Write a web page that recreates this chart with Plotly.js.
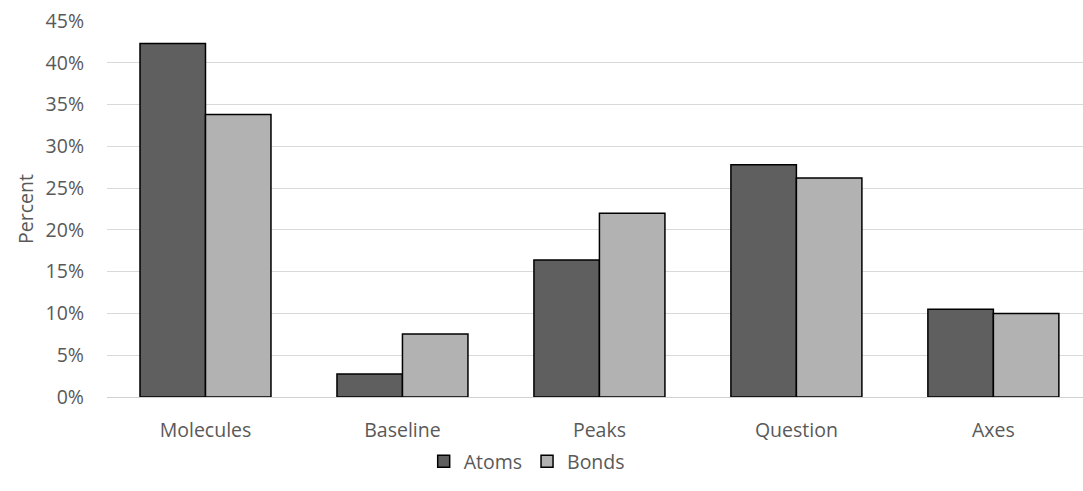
<!DOCTYPE html>
<html>
<head>
<meta charset="utf-8">
<script src="https://cdn.plot.ly/plotly-3.0.1.min.js"></script>
<style>html,body{margin:0;padding:0;background:#fff;}#chart{width:1083px;height:491px;}</style>
</head>
<body>
<div id="chart"></div>
<script>
const categories = ["Molecules", "Baseline", "Peaks", "Question", "Axes"];
const atoms = [0.423, 0.0275, 0.164, 0.278, 0.105];
const bonds = [0.338, 0.0755, 0.220, 0.262, 0.100];
const yTicks = [0, 0.05, 0.10, 0.15, 0.20, 0.25, 0.30, 0.35, 0.40, 0.45];
const yTickLabels = ["0%", "5%", "10%", "15%", "20%", "25%", "30%", "35%", "40%", "45%"];

const font = {family: "Open Sans, sans-serif", size: 19.5, color: "#595959"};

const data = [
  {type: "bar", name: "Atoms", x: categories, y: atoms,
   marker: {color: "#5f5f5f", line: {color: "#000000", width: 1.5}}},
  {type: "bar", name: "Bonds", x: categories, y: bonds,
   marker: {color: "#b2b2b2", line: {color: "#000000", width: 1.5}}}
];

const layout = {
  width: 1083, height: 491,
  margin: {l: 107, r: 0, t: 21, b: 94},
  paper_bgcolor: "#ffffff", plot_bgcolor: "#ffffff",
  font: font,
  barmode: "group", bargap: 0.335, bargroupgap: 0,
  showlegend: true,
  legend: {orientation: "h", x: 0.43, xanchor: "center", y: -0.12, yanchor: "top",
           bgcolor: "rgba(0,0,0,0)", font: font, itemwidth: 30, traceorder: "normal", tracegroupgap: 0},
  xaxis: {range: [-0.5, 4.455], showgrid: false, showline: true, linecolor: "#d0d0d0", linewidth: 1,
          ticks: "", ticklabelstandoff: 16, tickfont: font, fixedrange: true, automargin: false},
  yaxis: {range: [0, 0.45], tickvals: yTicks, ticktext: yTickLabels, showgrid: true,
          gridcolor: "#d9d9d9", gridwidth: 1, zeroline: false, showline: false,
          ticks: "", ticklabelstandoff: 22, tickfont: font, automargin: false,
          title: {text: "Percent", font: font, standoff: 6}}
};

Plotly.newPlot("chart", data, layout, {displayModeBar: false, staticPlot: true});
</script>
</body>
</html>
